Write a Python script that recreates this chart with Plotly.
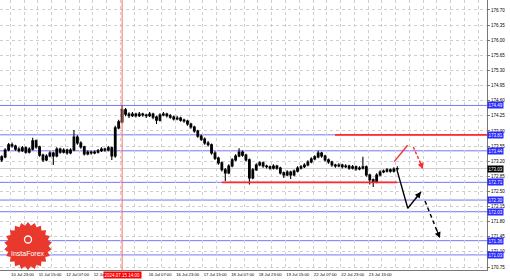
import plotly.graph_objects as go
import numpy as np

# ---------------- data (2-hour bars) ----------------
opens = [173.23, 173.30, 173.46, 173.58, 173.55, 173.48, 173.44, 173.51, 173.41, 173.48,
         173.67, 173.53, 173.34, 173.23, 173.32, 173.39, 173.32, 173.48, 173.41, 173.46,
         173.39, 173.46, 173.76, 173.62, 173.53, 173.37, 173.41, 173.39, 173.41, 173.44,
         173.48, 173.46, 173.51, 173.32, 173.97, 174.11, 174.39, 174.29, 174.25, 174.29,
         174.25, 174.29, 174.27, 174.25, 174.29, 174.22, 174.15, 174.27, 174.29, 174.25,
         174.22, 174.18, 174.20, 174.15, 174.13, 174.06, 173.99, 173.90, 173.78, 173.71,
         173.62, 173.58, 173.39, 173.27, 173.16, 173.00, 172.93, 173.09, 173.23, 173.32,
         173.41, 173.34, 173.23, 172.81, 173.00, 173.11, 173.16, 173.09, 173.07, 173.04,
         173.09, 173.04, 172.93, 172.88, 172.95, 172.88, 172.97, 173.04, 173.07, 173.11,
         173.18, 173.25, 173.30, 173.39, 173.32, 173.23, 173.18, 173.11, 173.09, 173.11,
         173.07, 173.09, 173.04, 173.07, 173.02, 173.04, 173.07, 172.88, 172.77, 172.72,
         172.88, 172.95, 172.97, 173.00, 172.97, 173.02]
highs = [173.34, 173.50, 173.62, 173.63, 173.58, 173.52, 173.55, 173.54, 173.52, 173.74,
         173.70, 173.56, 173.37, 173.36, 173.43, 173.42, 173.52, 173.51, 173.50, 173.49,
         173.50, 173.92, 173.80, 173.66, 173.56, 173.45, 173.44, 173.45, 173.48, 173.52,
         173.51, 173.55, 173.54, 174.02, 174.16, 174.50, 174.43, 174.33, 174.34, 174.32,
         174.34, 174.32, 174.30, 174.34, 174.32, 174.25, 174.31, 174.34, 174.32, 174.29,
         174.26, 174.25, 174.23, 174.18, 174.16, 174.09, 174.02, 173.93, 173.82, 173.75,
         173.67, 173.61, 173.43, 173.30, 173.19, 173.04, 173.13, 173.27, 173.36, 173.50,
         173.45, 173.37, 173.26, 173.04, 173.15, 173.20, 173.19, 173.12, 173.10, 173.13,
         173.12, 173.07, 172.96, 172.99, 172.98, 173.01, 173.08, 173.11, 173.15, 173.22,
         173.29, 173.34, 173.44, 173.42, 173.35, 173.26, 173.21, 173.14, 173.15, 173.14,
         173.13, 173.12, 173.11, 173.10, 173.08, 173.30, 173.10, 172.91, 172.80, 172.92,
         172.99, 173.01, 173.04, 173.03, 173.06, 173.08]
lows = [173.18, 173.27, 173.43, 173.51, 173.44, 173.40, 173.41, 173.37, 173.38, 173.45,
        173.49, 173.30, 173.18, 173.20, 173.29, 173.11, 173.29, 173.37, 173.38, 173.35,
        173.36, 173.43, 173.58, 173.49, 173.33, 173.34, 173.35, 173.36, 173.38, 173.41,
        173.42, 173.43, 173.23, 173.28, 173.94, 174.08, 174.24, 174.20, 174.22, 174.21,
        174.22, 174.23, 174.20, 174.22, 174.17, 174.06, 174.12, 174.24, 174.21, 174.18,
        174.14, 174.15, 174.11, 174.09, 174.02, 173.95, 173.86, 173.74, 173.67, 173.58,
        173.54, 173.35, 173.23, 173.12, 172.96, 172.74, 172.90, 173.06, 173.20, 173.29,
        173.30, 173.19, 172.66, 172.78, 172.97, 173.08, 173.05, 173.03, 173.00, 173.01,
        173.00, 172.89, 172.81, 172.85, 172.79, 172.85, 172.94, 173.01, 173.04, 173.08,
        173.15, 173.22, 173.27, 173.28, 173.19, 173.14, 173.07, 173.05, 173.06, 173.03,
        173.04, 173.00, 173.01, 172.98, 172.99, 173.01, 172.84, 172.66, 172.60, 172.69,
        172.85, 172.92, 172.94, 172.93, 172.94, 172.99]
closes = [173.30, 173.46, 173.58, 173.55, 173.48, 173.44, 173.51, 173.41, 173.48, 173.67,
          173.53, 173.34, 173.23, 173.32, 173.39, 173.32, 173.48, 173.41, 173.46, 173.39,
          173.46, 173.76, 173.62, 173.53, 173.37, 173.41, 173.39, 173.41, 173.44, 173.48,
          173.46, 173.51, 173.32, 173.97, 174.11, 174.39, 174.29, 174.25, 174.29, 174.25,
          174.29, 174.27, 174.25, 174.29, 174.22, 174.15, 174.27, 174.29, 174.25, 174.22,
          174.18, 174.20, 174.15, 174.13, 174.06, 173.99, 173.90, 173.78, 173.71, 173.62,
          173.58, 173.39, 173.27, 173.16, 173.00, 172.93, 173.09, 173.23, 173.32, 173.41,
          173.34, 173.23, 172.81, 173.00, 173.11, 173.16, 173.09, 173.07, 173.04, 173.09,
          173.04, 172.93, 172.88, 172.95, 172.88, 172.97, 173.04, 173.07, 173.11, 173.18,
          173.25, 173.30, 173.39, 173.32, 173.23, 173.18, 173.11, 173.09, 173.11, 173.07,
          173.09, 173.04, 173.07, 173.02, 173.04, 173.07, 172.88, 172.77, 172.72, 172.88,
          172.95, 172.97, 173.00, 172.97, 173.02, 173.03]
bar_index = list(range(len(closes)))

# time axis labels (bar-index positions of label centres)
time_label_pos = [6.05, 14.05, 22.05, 30.05, 46.05, 54.05, 62.05, 70.05, 78.05,
                  86.05, 94.05, 102.05, 110.05]
time_labels = ["10 Jul 23:00", "11 Jul 15:00", "12 Jul 07:00", "12 Jul 23:00",
               "16 Jul 07:00", "16 Jul 23:00", "17 Jul 15:00", "18 Jul 07:00",
               "18 Jul 23:00", "19 Jul 15:00", "22 Jul 07:00", "22 Jul 23:00",
               "23 Jul 15:00"]

price_ticks = [170.75, 171.10, 171.45, 171.80, 172.15, 172.50, 172.85, 173.20, 173.55,
               173.90, 174.25, 174.60, 174.95, 175.30, 175.65, 176.00, 176.35, 176.70]

blue_levels = [174.49, 173.81, 173.44, 172.71, 172.30, 172.03, 171.36, 171.03]
resistance_level = 173.81
resistance_from = 96.9
support_level = 172.71
support_from, support_to = 64, 115

event_bar = 35
event_label = "2024.07.15 14:00"

# forecast arrows (bar index, price)
red_up_x, red_up_y = [114.1, 118.0], [173.19, 173.57]
red_dn_x, red_dn_y = [119.65, 122.47], [173.53, 173.02]
blk_x, blk_y = [114.9, 118.05, 121.9], [173.00, 172.11, 172.49]
blk_dn_x, blk_dn_y = [123.05, 127.4], [172.28, 171.42]

# ---------------- figure ----------------
X_RANGE = [-0.5, 141.08]
Y_RANGE = [170.681, 176.931]
PW, PH = 487, 270  # plot area in px

fig = go.Figure()
fig.add_trace(go.Candlestick(
    x=bar_index, open=opens, high=highs, low=lows, close=closes,
    increasing=dict(line=dict(color="#000000", width=1.1), fillcolor="#000000"),
    decreasing=dict(line=dict(color="#000000", width=1.1), fillcolor="#000000"),
    whiskerwidth=0, showlegend=False, hoverinfo="skip"))

RED = "#ff2a2a"
fig.add_trace(go.Scatter(x=red_up_x, y=red_up_y, mode="lines",
                         line=dict(color=RED, width=1.4), showlegend=False, hoverinfo="skip"))
fig.add_trace(go.Scatter(x=red_dn_x, y=red_dn_y, mode="lines",
                         line=dict(color=RED, width=1.4, dash="3px,2px"), showlegend=False, hoverinfo="skip"))
fig.add_trace(go.Scatter(x=blk_x, y=blk_y, mode="lines",
                         line=dict(color="#000000", width=1.4), showlegend=False, hoverinfo="skip"))
fig.add_trace(go.Scatter(x=blk_dn_x, y=blk_dn_y, mode="lines",
                         line=dict(color="#000000", width=1.4, dash="4px,3px"), showlegend=False, hoverinfo="skip"))

shapes = []
for lv in blue_levels:
    shapes.append(dict(type="line", xref="paper", x0=0, x1=1, yref="y", y0=lv, y1=lv,
                       line=dict(color="#7676f4", width=1), layer="below"))
# current price line
shapes.append(dict(type="line", xref="paper", x0=0, x1=1, yref="y", y0=closes[-1], y1=closes[-1],
                   line=dict(color="#cfcfcf", width=1), layer="below"))
shapes.append(dict(type="line", xref="x", x0=resistance_from, x1=X_RANGE[1], yref="y",
                   y0=resistance_level, y1=resistance_level, line=dict(color=RED, width=1.6)))
shapes.append(dict(type="line", xref="x", x0=support_from, x1=support_to, yref="y",
                   y0=support_level, y1=support_level, line=dict(color=RED, width=1.6)))
shapes.append(dict(type="line", xref="x", x0=event_bar, x1=event_bar, yref="paper", y0=0, y1=1,
                   line=dict(color="#ff6a6a", width=1)))

# InstaForex badge (decorative)
cx, cy, r_out, r_in, n = 28, 246, 24, 20.5, 22
ang = np.linspace(0, 2 * np.pi, 2 * n, endpoint=False) - np.pi / 2
rad = np.where(np.arange(2 * n) % 2 == 0, r_out, r_in)
pts = [((cx + rr * np.cos(a)) / PW, 1 - (cy + rr * np.sin(a)) / PH) for a, rr in zip(ang, rad)]
path = "M " + " L ".join(f"{px:.5f},{py:.5f}" for px, py in pts) + " Z"
shapes.append(dict(type="path", xref="paper", yref="paper", path=path,
                   fillcolor="#e8392c", line=dict(width=0), layer="above"))
shapes.append(dict(type="circle", xref="paper", yref="paper",
                   x0=(cx - 3.5) / PW, x1=(cx + 3.5) / PW, y0=1 - (cy - 3) / PH, y1=1 - (cy - 10) / PH,
                   line=dict(color="white", width=1.3), layer="above"))

annotations = []
LBL_FONT = dict(color="white", size=4.5, family="Liberation Sans")
for lv in blue_levels:
    annotations.append(dict(x=1, xref="paper", xanchor="left", xshift=0, y=lv, yref="y",
                            text=f"{lv:.2f}", showarrow=False, bgcolor="#2a2aff",
                            font=LBL_FONT, borderpad=0.6))
annotations.append(dict(x=1, xref="paper", xanchor="left", y=closes[-1], yref="y",
                        text=f"{closes[-1]:.2f}", showarrow=False, bgcolor="#000000",
                        font=LBL_FONT, borderpad=0.6))
annotations.append(dict(x=event_bar, xref="x", y=0, yref="paper", yanchor="top", yshift=-1,
                        text=event_label, showarrow=False, bgcolor="#ff0000",
                        font=LBL_FONT, borderpad=0.6))
annotations.append(dict(x=cx / PW, xref="paper", xanchor="center", y=1 - 253 / PH, yref="paper",
                        yanchor="middle", text="InstaForex", showarrow=False,
                        font=dict(color="white", size=7, family="Liberation Sans")))

# arrowheads
def head(xs, ys, color, frac):
    x1, y1 = xs[-1], ys[-1]
    x0 = x1 - frac * (xs[-1] - xs[-2])
    y0 = y1 - frac * (ys[-1] - ys[-2])
    return dict(x=x1, y=y1, ax=x0, ay=y0, xref="x", yref="y", axref="x", ayref="y",
                showarrow=True, arrowhead=2, arrowsize=1.0, arrowwidth=1.2,
                arrowcolor=color, standoff=0, text="")

annotations.append(head(red_dn_x, red_dn_y, RED, 0.35))
annotations.append(head(blk_x, blk_y, "#000000", 0.5))
annotations.append(head(blk_dn_x, blk_dn_y, "#000000", 0.3))

fig.update_layout(
    width=510, height=280,
    margin=dict(l=0, r=23, t=0, b=10),
    paper_bgcolor="white", plot_bgcolor="white",
    showlegend=False,
    shapes=shapes, annotations=annotations,
    xaxis=dict(range=X_RANGE, rangeslider=dict(visible=False),
               tickmode="array", tickvals=time_label_pos, ticktext=time_labels,
               showgrid=False, ticks="", tickfont=dict(size=4.2, color="#000", family="Liberation Sans"),
               showline=True, linecolor="#777", linewidth=1, zeroline=False,
               minor=dict(tick0=2.5, dtick=4, showgrid=True, gridcolor="#cfcfcf",
                          griddash="dot", gridwidth=1, ticks=""),
               fixedrange=True),
    yaxis=dict(range=Y_RANGE, side="right", tickmode="array", tickvals=price_ticks,
               ticktext=[f"{v:.2f}" for v in price_ticks],
               showgrid=True, gridcolor="#cfcfcf", griddash="dot", gridwidth=1,
               ticks="outside", ticklen=2, tickcolor="#777",
               tickfont=dict(size=4.5, color="#000", family="Liberation Sans"),
               showline=True, linecolor="#777", linewidth=1, zeroline=False,
               fixedrange=True),
)

fig.write_html("out.html")
